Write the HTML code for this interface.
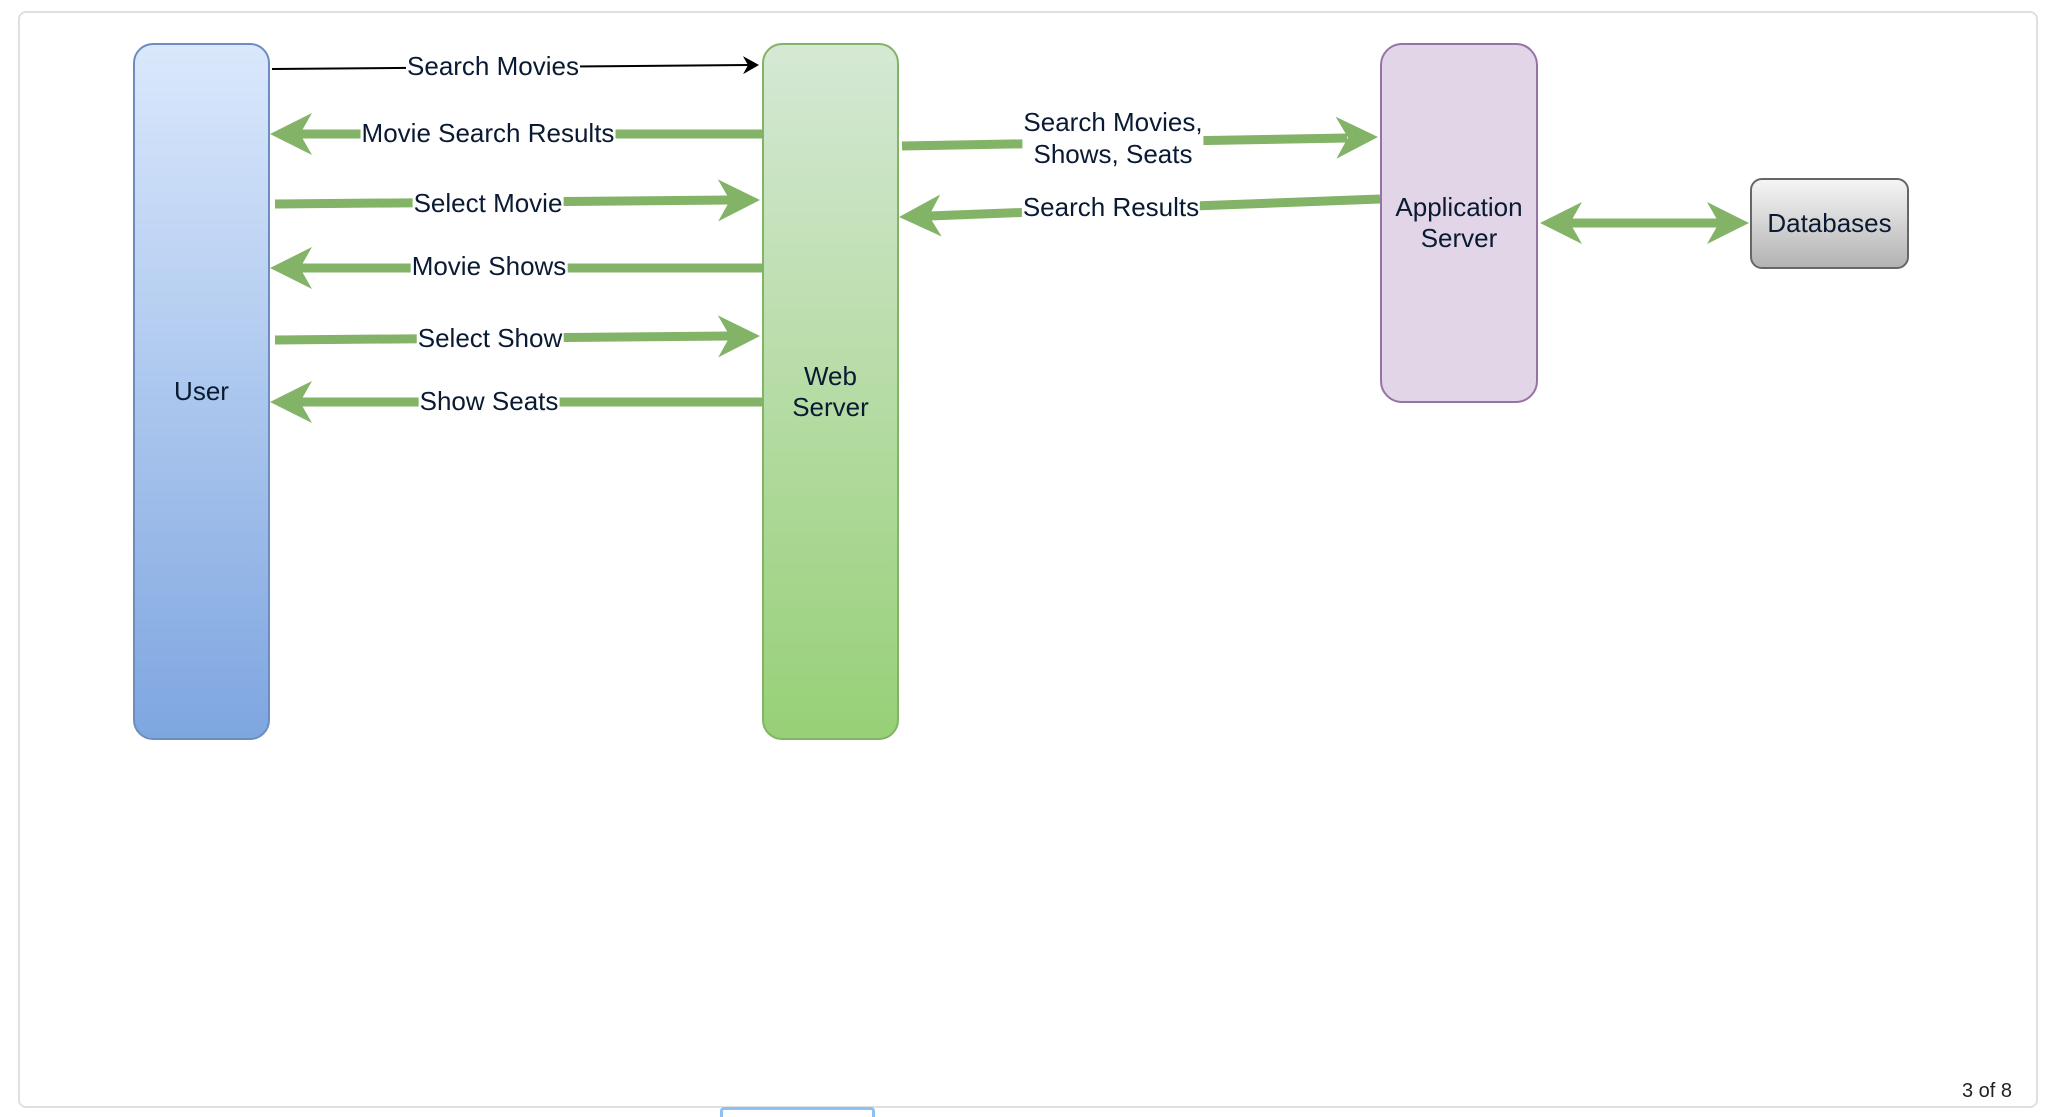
<!DOCTYPE html>
<html><head><meta charset="utf-8"><style>
html,body{margin:0;padding:0;width:2056px;height:1114px;overflow:hidden;background:#fff;font-family:"Liberation Sans",Arial,sans-serif;}
.lbl{position:absolute;transform:translate(-50%,-50%);background:#fff;font-size:26px;color:#0a1a33;white-space:nowrap;line-height:30px;padding:0 1px;}
.box{position:absolute;display:flex;align-items:center;justify-content:center;text-align:center;font-size:26px;color:#0a1a33;line-height:31px;box-sizing:border-box;}
</style></head><body>
<div style="position:absolute;left:18px;top:11px;width:2020px;height:1097px;border:2px solid #e0e0e0;border-radius:8px;box-sizing:border-box;"></div>
<div style="position:absolute;left:720px;top:1107px;width:155px;height:10px;border:3px solid #8fc0f5;border-bottom:none;border-radius:4px 4px 0 0;box-sizing:border-box;"></div>

<div class="box" style="left:133px;top:43px;width:137px;height:697px;border:2px solid #6c8ebf;border-radius:20px;background:linear-gradient(#dae8fc,#7ea6e0);">User</div>
<div class="box" style="left:762px;top:43px;width:137px;height:697px;border:2px solid #82b366;border-radius:20px;background:linear-gradient(#d5e8d4,#97d077);">Web<br>Server</div>
<div class="box" style="left:1380px;top:43px;width:158px;height:360px;border:2px solid #9673a6;border-radius:22px;background:#e1d5e7;">Application<br>Server</div>
<div class="box" style="left:1750px;top:178px;width:159px;height:91px;border:2px solid #666;border-radius:12px;background:linear-gradient(#f5f5f5,#b3b3b3);">Databases</div>

<svg width="2056" height="1114" style="position:absolute;left:0;top:0;">
<g stroke="#000" stroke-width="2"><line x1="272" y1="69" x2="748" y2="65"/></g>
<polygon transform="translate(759,65) rotate(-0.5)" points="0,0 -16,-9 -11,0 -16,9" fill="#000"/>
<g stroke="#82b366" stroke-width="9" fill="none">
<line x1="762" y1="134" x2="300" y2="134"/>
<line x1="275" y1="204" x2="730" y2="200"/>
<line x1="762" y1="268" x2="300" y2="268"/>
<line x1="275" y1="340" x2="730" y2="336"/>
<line x1="762" y1="402" x2="300" y2="402"/>
<line x1="902" y1="146" x2="1347" y2="138"/>
<line x1="1380" y1="199" x2="929" y2="216"/>
<line x1="1570" y1="223" x2="1719" y2="223"/>
</g>
<g fill="#82b366">
<polygon transform="translate(270,134) rotate(180)" points="0,0 -42,-21 -30,0 -42,21"/>
<polygon transform="translate(760,200) rotate(-0.5)" points="0,0 -42,-21 -30,0 -42,21"/>
<polygon transform="translate(270,268) rotate(180)" points="0,0 -42,-21 -30,0 -42,21"/>
<polygon transform="translate(760,336) rotate(-0.5)" points="0,0 -42,-21 -30,0 -42,21"/>
<polygon transform="translate(270,402) rotate(180)" points="0,0 -42,-21 -30,0 -42,21"/>
<polygon transform="translate(1378,137) rotate(-1)" points="0,0 -42,-21 -30,0 -42,21"/>
<polygon transform="translate(899,217) rotate(178)" points="0,0 -42,-21 -30,0 -42,21"/>
<polygon transform="translate(1540,223) rotate(180)" points="0,0 -42,-21 -30,0 -42,21"/>
<polygon transform="translate(1749,223)" points="0,0 -42,-21 -30,0 -42,21"/>
</g>
</svg>

<div class="lbl" style="left:493px;top:66px;">Search Movies</div>
<div class="lbl" style="left:488px;top:133px;">Movie Search Results</div>
<div class="lbl" style="left:488px;top:203px;">Select Movie</div>
<div class="lbl" style="left:489px;top:266px;">Movie Shows</div>
<div class="lbl" style="left:490px;top:338px;">Select Show</div>
<div class="lbl" style="left:489px;top:401px;">Show Seats</div>
<div class="lbl" style="left:1113px;top:138px;text-align:center;line-height:32px;">Search Movies,<br>Shows, Seats</div>
<div class="lbl" style="left:1111px;top:207px;">Search Results</div>
<div style="position:absolute;left:1962px;top:1080px;font-size:20px;color:#222;">3 of 8</div>
</body></html>
